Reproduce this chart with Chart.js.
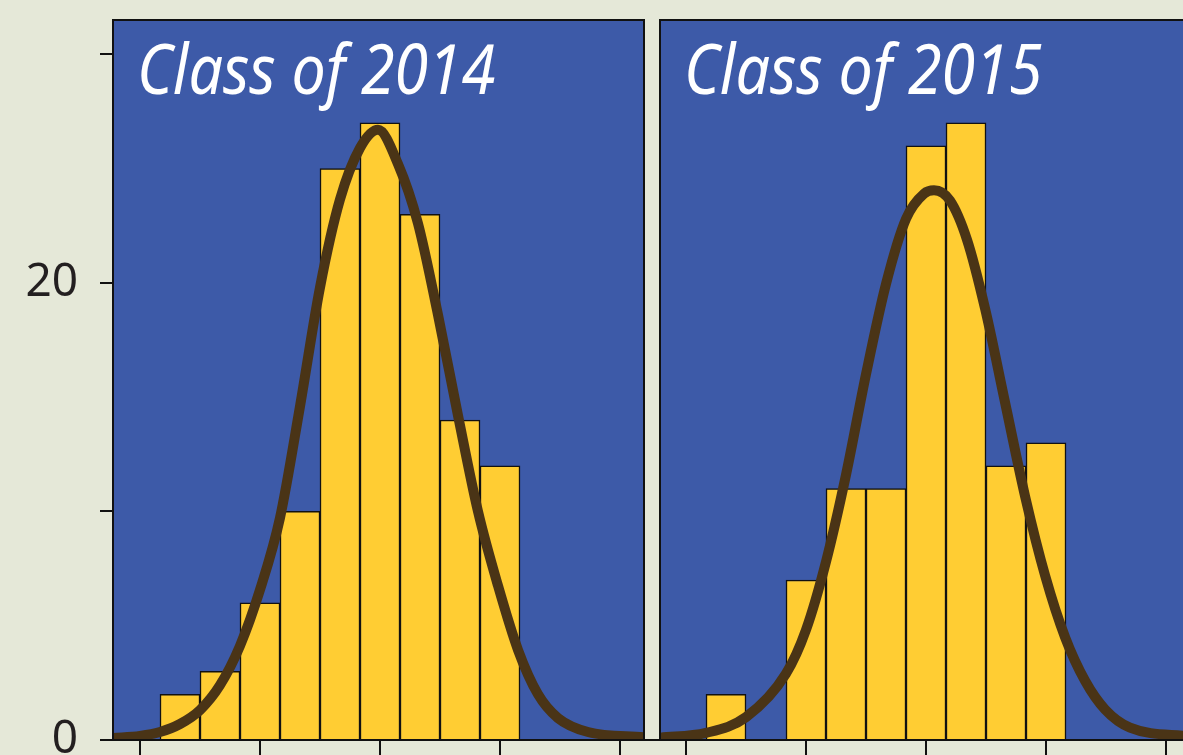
<!DOCTYPE html>
<html>
<head>
<meta charset="utf-8">
<script src="https://cdn.jsdelivr.net/npm/chart.js@4"></script>
<style>
    html, body {
        margin: 0;
        padding: 0;
        background: #e5e8d8;
        overflow: hidden;
        width: 1183px;
        height: 755px;
    }
    canvas {
        position: absolute;
        top: 0;
    }
    #class2014 { left: 0px; }
    #class2015 { left: 650px; }
</style>
</head>
<body>
<canvas id="class2014" width="660" height="800"></canvas>
<canvas id="class2015" width="560" height="800"></canvas>
<script>
// histogram bins (centre of each bin) and counts
const binCenters = [1, 2, 3, 4, 5, 6, 7, 8, 9];
const counts2014 = [2, 3, 6, 10, 25, 27, 23, 14, 12];
const counts2015 = [2, 0, 7, 11, 11, 26, 27, 12, 13];

// fitted curves
const curveX2014 = [-0.675, 0, 0.5, 1, 1.5, 2, 2.5, 3, 3.5, 4, 4.5, 5, 5.5, 5.95, 6.45, 6.95, 7.45, 7.95, 8.45, 8.95, 9.45, 9.95, 10.45, 11.2, 12.6];
const curveY2014 = [0.09, 0.18, 0.35, 0.7, 1.31, 2.4, 4.12, 6.57, 9.72, 14.6, 19.8, 23.65, 25.9, 26.7, 25.2, 22.6, 18.6, 14.2, 10.0, 6.75, 3.94, 2.0, 0.96, 0.35, 0.12];
const curveX2015 = [-0.65, 0.5, 1.5, 2.5, 3, 3.5, 4, 4.5, 5, 5.5, 5.95, 6.2, 6.6, 7.03, 7.48, 7.98, 8.48, 8.98, 9.48, 9.98, 10.48, 11.1, 12.625];
const curveY2015 = [0.1, 0.31, 1.0, 2.9, 4.82, 7.8, 11.6, 16.0, 19.95, 22.8, 23.9, 24.05, 23.6, 21.86, 18.85, 14.74, 10.64, 7.18, 4.48, 2.58, 1.33, 0.54, 0.15];

const xTicks = [0, 3, 6, 9, 12];
const yTicks = [0, 10, 20, 30];
const yLabelled = [0, 20];
const titles = ["Class of 2014", "Class of 2015"];

const PANEL_BG = '#3d5aa8';
const BAR_FILL = '#ffcd33';
const CURVE = '#4a3416';

function toPoints(xs, ys) {
    return xs.map((x, i) => ({ x: x, y: ys[i] }));
}

// panel background, frame and title drawn inside the chart area
const panelPlugin = {
    id: 'panel',
    beforeDatasetsDraw(chart, args, opts) {
        const a = chart.chartArea;
        const ctx = chart.ctx;
        ctx.save();
        ctx.fillStyle = PANEL_BG;
        ctx.fillRect(a.left, a.top, a.right - a.left, a.bottom - a.top);
        ctx.fillStyle = '#ffffff';
        ctx.font = 'italic 70px "Noto Sans", sans-serif';
        ctx.textBaseline = 'alphabetic';
        ctx.textAlign = 'left';
        // the original face is narrower, so squeeze it a bit
        ctx.translate(a.left + 24, a.top + 74);
        ctx.scale(0.87, 1);
        ctx.fillText(opts.text, 0, 0);
        ctx.restore();
    },
    afterDraw(chart, args, opts) {
        const a = chart.chartArea;
        const ctx = chart.ctx;
        ctx.save();
        ctx.strokeStyle = '#111111';
        ctx.lineWidth = 2;
        ctx.beginPath();
        ctx.moveTo(a.left, a.bottom);
        ctx.lineTo(a.left, a.top);
        ctx.lineTo(a.right, a.top);
        ctx.lineTo(a.right, a.bottom);
        ctx.stroke();
        // x axis line runs across the gap between panels
        ctx.beginPath();
        ctx.moveTo(opts.axisFrom, a.bottom);
        ctx.lineTo(opts.axisTo, a.bottom);
        ctx.stroke();
        ctx.restore();
    }
};

function makeOptions(showY, xMin, xMax, title, padding, axisFrom, axisTo) {
    return {
        responsive: false,
        animation: false,
        devicePixelRatio: 1,
        layout: { padding: padding },
        plugins: {
            legend: { display: false },
            tooltip: { enabled: false },
            panel: { text: title, axisFrom: axisFrom, axisTo: axisTo }
        },
        scales: {
            x: {
                type: 'linear',
                min: xMin,
                max: xMax,
                offset: false,
                afterBuildTicks: (scale) => {
                    scale.ticks = xTicks.map(v => ({ value: v }));
                },
                afterFit: (scale) => {
                    scale.height = 60;
                    scale.paddingLeft = 0;
                    scale.paddingRight = 0;
                },
                ticks: { display: false },
                grid: {
                    offset: false,
                    drawOnChartArea: false,
                    drawTicks: true,
                    tickLength: 20,
                    color: '#111111',
                    lineWidth: 2
                },
                border: { display: false }
            },
            y: {
                display: showY,
                min: 0,
                max: 31.5,
                afterBuildTicks: (scale) => {
                    scale.ticks = yTicks.map(v => ({ value: v }));
                },
                afterFit: (scale) => {
                    if (showY) scale.width = 113;
                    scale.paddingTop = 0;
                    scale.paddingBottom = 0;
                },
                ticks: {
                    padding: 22,
                    color: '#231f20',
                    font: { family: '"Noto Sans", sans-serif', size: 46 },
                    callback: (v) => yLabelled.includes(v) ? String(v) : ''
                },
                grid: {
                    drawOnChartArea: false,
                    drawTicks: true,
                    tickLength: 13,
                    color: '#111111',
                    lineWidth: 2
                },
                border: { display: false }
            }
        }
    };
}

function histogram(canvasId, counts, curveX, curveY, showY, xMin, xMax, title, padding, axisFrom, axisTo) {
    return new Chart(document.getElementById(canvasId), {
        data: {
            datasets: [
                {
                    type: 'line',
                    data: toPoints(curveX, curveY),
                    borderColor: CURVE,
                    borderWidth: 10,
                    pointRadius: 0,
                    fill: false,
                    cubicInterpolationMode: 'monotone',
                    order: 0
                },
                {
                    type: 'bar',
                    data: toPoints(binCenters, counts),
                    backgroundColor: BAR_FILL,
                    borderColor: '#111111',
                    borderWidth: 1.5,
                    barPercentage: 1.0,
                    categoryPercentage: 1.0,
                    order: 1
                }
            ]
        },
        options: makeOptions(showY, xMin, xMax, title, padding, axisFrom, axisTo),
        plugins: [panelPlugin]
    });
}

histogram('class2014', counts2014, curveX2014, curveY2014, true, -0.675, 12.6, titles[0],
    { top: 20, right: 16, left: 0, bottom: 0 }, 113, 660);
histogram('class2015', counts2015, curveX2015, curveY2015, false, -0.65, 12.625, titles[1],
    { top: 20, right: 19, left: 10, bottom: 0 }, 0, 560);
</script>
</body>
</html>
